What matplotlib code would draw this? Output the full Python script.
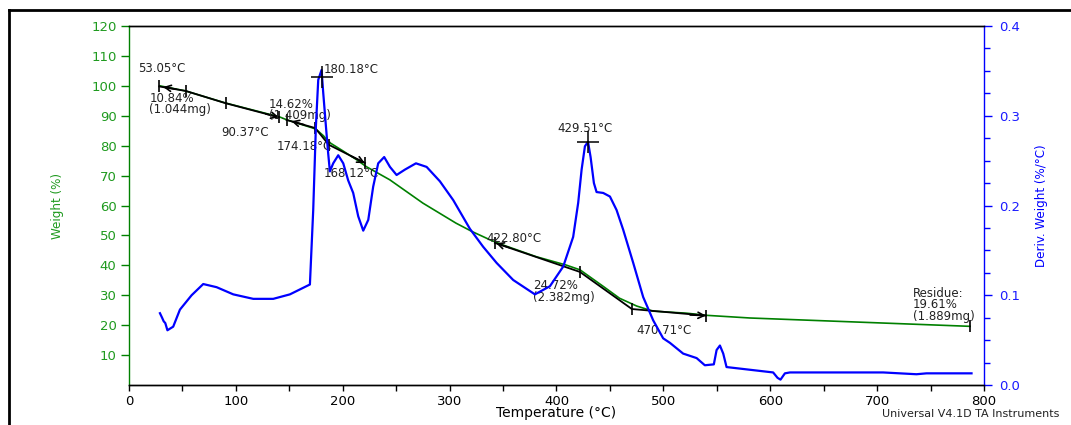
import matplotlib
matplotlib.use("Agg")
import matplotlib.pyplot as plt
from matplotlib.lines import Line2D
from matplotlib.ticker import MultipleLocator
from matplotlib import font_manager

# TGA weight curve (%)
temp_w = [29, 53, 90, 141, 148, 172, 175, 182, 187, 200, 213, 222, 244, 275, 306, 321,
          338, 350, 381, 409, 422, 444, 459, 475, 490, 522, 540, 581, 787]
weight = [100.0, 98.3, 94.3, 89.6, 88.6, 85.9, 85.5, 83.3, 81.2, 78.3, 75.3, 73.0, 68.6,
          60.8, 54.1, 51.3, 48.5, 46.8, 42.9, 40.1, 38.5, 32.9, 29.0, 26.4, 24.7, 24.0,
          23.3, 22.4, 19.61]

# DTG derivative curve (%/°C)
temp_d = [29.0, 31.0, 32.5, 34.0, 36.0, 41.4, 47.7, 58.6, 69.5, 82.0, 97.6, 116.3, 135.0,
          150.6, 169.3, 172.4, 174.9, 177.1, 180.2, 181.8, 184.3, 186.4, 188.0, 191.1,
          195.8, 200.5, 205.1, 209.8, 214.5, 219.2, 223.9, 228.5, 233.2, 238.8, 244.2,
          250.4, 258.2, 268.5, 278.5, 290.9, 303.4, 319.0, 331.4, 344.0, 359.5, 379.8,
          393.8, 406.3, 415.6, 420.3, 423.5, 426.6, 429.5, 431.9, 435.0, 437.5, 443.7,
          450.0, 456.2, 462.4, 471.8, 481.1, 490.5, 499.8, 506.1, 518.5, 531.1, 538.8,
          547.2, 549.8, 552.9, 556.0, 559.1, 580.9, 602.7, 606.8, 609.6, 613.7, 618.4,
          674.5, 705.6, 736.8, 746.2, 788.3]
deriv = [0.080, 0.075, 0.071, 0.069, 0.061, 0.065, 0.084, 0.100, 0.1125, 0.109, 0.101,
         0.096, 0.096, 0.101, 0.112, 0.195, 0.288, 0.340, 0.351, 0.325, 0.288, 0.258,
         0.238, 0.247, 0.256, 0.247, 0.228, 0.214, 0.188, 0.172, 0.184, 0.221, 0.247,
         0.254, 0.243, 0.234, 0.240, 0.247, 0.243, 0.227, 0.206, 0.174, 0.154, 0.136,
         0.117, 0.101, 0.110, 0.132, 0.165, 0.203, 0.240, 0.266, 0.271, 0.254, 0.225,
         0.215, 0.214, 0.210, 0.195, 0.173, 0.136, 0.098, 0.072, 0.052, 0.047, 0.035,
         0.030, 0.022, 0.023, 0.039, 0.044, 0.035, 0.020, 0.017, 0.014, 0.008, 0.006,
         0.013, 0.014, 0.014, 0.014, 0.012, 0.013, 0.013]

# step analysis lines (temperature, weight)
step1_t = [28.3, 53.05, 90.37, 140.3]
step1_w = [99.8, 98.3, 94.2, 89.5]
step2_t = [147.5, 174.18, 187.0, 220.8]
step2_w = [88.6, 85.9, 80.3, 74.2]
step3_t = [342.4, 421.9, 470.5, 539.8]
step3_w = [47.5, 37.8, 25.4, 23.2]
residue_t = 787
residue_w = 19.61

# peak markers on DTG
peak_t = [180.18, 429.51]
peak_d = [0.343, 0.271]

GREEN = "#008000"
GREEN_TXT = "#1f9a1f"
BLUE = "#0000ff"

families = {f.name for f in font_manager.fontManager.ttflist}
if "Liberation Sans Narrow" in families:
    label_font = dict(family="Liberation Sans Narrow", fontsize=11)
else:
    label_font = dict(family="DejaVu Sans", fontstretch="condensed", fontsize=9.5)

plt.rcParams["font.family"] = "DejaVu Sans"

fig = plt.figure(figsize=(10.71, 4.25), dpi=100)
ax = fig.add_axes([0.1204, 0.0941, 0.7984, 0.8447])
ax2 = ax.twinx()

# weight curve
ax.plot(temp_w, weight, color=GREEN, lw=1.2, zorder=2)

# step lines with tick marks
for ts, ws in [(step1_t, step1_w), (step2_t, step2_w), (step3_t, step3_w)]:
    ax.plot(ts, ws, color="black", lw=1.3, zorder=3)
    ax.plot(ts, ws, ls="none", marker="|", ms=9, mew=1.2, color="black", zorder=3)
ax.plot([residue_t], [residue_w], ls="none", marker="|", ms=9, mew=1.2, color="black")

arrows = [((32, 99.6), (44, 98.9)), ((140.3, 89.5), (128, 90.6)),
          ((152, 88.2), (164, 87.0)), ((220.8, 74.2), (208, 76.5)),
          ((343.5, 47.4), (356, 45.9)), ((539.8, 23.2), (525, 23.4))]
for tip, tail in arrows:
    ax.annotate("", xy=tip, xytext=tail,
                arrowprops=dict(arrowstyle="->", color="black", lw=1.2,
                                mutation_scale=11, shrinkA=0, shrinkB=0))

# derivative curve
ax2.plot(temp_d, deriv, color=BLUE, lw=1.6, zorder=2)
ax2.plot(peak_t, peak_d, ls="none", marker="+", ms=16, mew=1.1, color="black")

# annotation text
labels = [
    (8.4, 105.7, "53.05°C"),
    (19.0, 94.0, "10.84%\n(1.044mg)"),
    (86.7, 84.5, "90.37°C"),
    (131.0, 92.0, "14.62%\n(1.409mg)"),
    (138.2, 79.7, "174.18°C"),
    (182.4, 105.4, "180.18°C"),
    (181.8, 70.6, "168.12°C"),
    (400.4, 85.6, "429.51°C"),
    (334.0, 49.1, "422.80°C"),
    (378.0, 31.2, "24.72%\n(2.382mg)"),
    (475.0, 18.1, "470.71°C"),
    (733.7, 26.8, "Residue:\n19.61%\n(1.889mg)"),
]
for x, y, s in labels:
    ax.text(x, y, s, fontsize=8.5, color="#222222", ha="left", va="center",
            linespacing=0.85, zorder=4)

# axes limits and ticks
ax.set_xlim(0, 800)
ax.set_ylim(0, 120)
ax2.set_ylim(0, 0.4)
ax.xaxis.set_major_locator(MultipleLocator(100))
ax.xaxis.set_minor_locator(MultipleLocator(50))
ax.set_yticks(range(10, 121, 10))
ax2.yaxis.set_major_locator(MultipleLocator(0.1))
ax2.yaxis.set_minor_locator(MultipleLocator(0.025))
ax2.yaxis.set_major_formatter(plt.FormatStrFormatter("%.1f"))

ax.tick_params(axis="x", which="both", direction="out", length=4, width=1,
               colors="black", labelsize=9.5, pad=3)
ax.tick_params(axis="y", direction="out", length=6, width=1, color=GREEN,
               labelcolor=GREEN_TXT, labelsize=9.5, pad=3)
ax2.tick_params(axis="y", which="major", direction="out", length=6, width=1,
                color=BLUE, labelcolor="#1a1aff", labelsize=9.5, pad=5)
ax2.tick_params(axis="y", which="minor", direction="out", length=4, width=1, color=BLUE)

for a in (ax, ax2):
    a.spines["top"].set_color("black")
    a.spines["bottom"].set_color("black")
    for s in a.spines.values():
        s.set_linewidth(1)
ax.spines["left"].set_color(GREEN)
ax.spines["right"].set_visible(False)
ax2.spines["right"].set_color(BLUE)
ax2.spines["left"].set_visible(False)

ax.set_xlabel("Temperature (°C)", fontsize=10)
ax.xaxis.set_label_coords(0.5, -0.078)
ax.xaxis.label.set_va("center")
ax.set_ylabel("Weight (%)", color=GREEN_TXT, **label_font)
ax.yaxis.set_label_coords(-0.084, 0.5)
ax.yaxis.label.set_va("center")
ax2.set_ylabel("Deriv. Weight (%/°C)", color=BLUE, rotation=90, **label_font)
ax2.yaxis.set_label_coords(1.067, 0.5)
ax2.yaxis.label.set_va("center")

fig.text(0.8235, 0.027, "Universal V4.1D TA Instruments", fontsize=8,
         color="#222222", ha="left", va="center")

# page frame
fig.add_artist(Line2D([0.008, 0.008], [0.0, 0.9776], transform=fig.transFigure,
                      color="black", lw=2))
fig.add_artist(Line2D([0.008, 1.0], [0.9776, 0.9776], transform=fig.transFigure,
                      color="black", lw=2))

fig.savefig("out.png", dpi=100)
